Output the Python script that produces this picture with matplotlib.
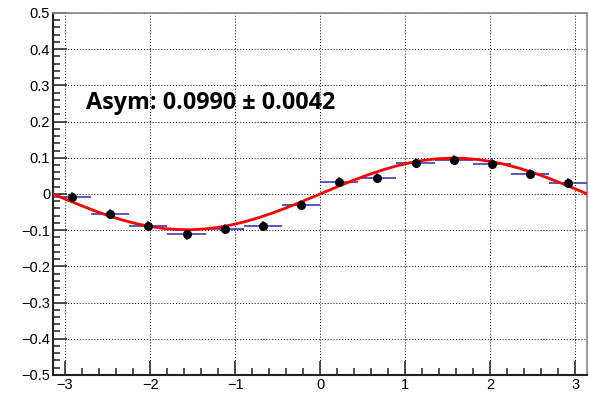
import numpy as np
import matplotlib
matplotlib.use('Agg')
import matplotlib.pyplot as plt
from matplotlib.ticker import MultipleLocator, FixedLocator

# binned asymmetry vs phi (14 bins over -pi..pi)
n_bins = 14
bin_edges = np.linspace(-np.pi, np.pi, n_bins + 1)
asym_vals = [-0.009, -0.055, -0.088, -0.112, -0.096, -0.089, -0.030,
             0.033, 0.043, 0.086, 0.094, 0.084, 0.054, 0.030]
asym_errs = [0.014] * n_bins

fit_amp = 0.0990
fit_err = 0.0042

x_ticks = [-3, -2, -1, 0, 1, 2, 3]
y_ticks = [-0.5, -0.4, -0.3, -0.2, -0.1, 0, 0.1, 0.2, 0.3, 0.4, 0.5]
y_ticklabels = ['\u22120.5', '\u22120.4', '\u22120.3', '\u22120.2', '\u22120.1', '0',
                '0.1', '0.2', '0.3', '0.4', '0.5']
x_ticklabels = ['\u22123', '\u22122', '\u22121', '0', '1', '2', '3']

plt.rcParams['font.family'] = ['Liberation Sans', 'DejaVu Sans']

fig = plt.figure(figsize=(5.89, 3.93), dpi=100)
ax = fig.add_axes([0.090, 0.046, 0.907, 0.921])

centers = 0.5 * (bin_edges[:-1] + bin_edges[1:])
half_w = 0.5 * np.diff(bin_edges)

ax.errorbar(centers, asym_vals, xerr=half_w, yerr=asym_errs, fmt='none',
            ecolor='#2a2ab0', elinewidth=1.1, capsize=0, zorder=3)

# fit curve, drawn coarse like a TF1 polyline
phi = np.linspace(-np.pi, np.pi, 40)
ax.plot(phi, fit_amp * np.sin(phi), color='#ff0000', lw=2, zorder=4)

ax.plot(centers, asym_vals, 'o', color='black', ms=5.5, zorder=5)

ax.text(-2.75, 0.252, 'Asym: %.4f \u00b1 %.4f' % (fit_amp, fit_err),
        fontsize=16.8, fontweight='bold', family=['Open Sans', 'DejaVu Sans'],
        va='center', ha='left')

ax.set_xlim(-np.pi, np.pi)
ax.set_ylim(-0.5, 0.5)
ax.xaxis.set_major_locator(FixedLocator(x_ticks))
ax.set_xticklabels(x_ticklabels)
ax.xaxis.set_minor_locator(MultipleLocator(0.2))
ax.yaxis.set_major_locator(FixedLocator(y_ticks))
ax.set_yticklabels(y_ticklabels)
ax.yaxis.set_minor_locator(MultipleLocator(0.02))

ax.tick_params(which='both', direction='in', top=False, right=False,
               labelsize=10.5, color='#333333', width=1.2)
ax.tick_params(which='major', length=10, pad=2)
ax.tick_params(which='minor', length=5)

ax.grid(True, which='major', color='black', linestyle=(0, (1, 2)), lw=0.7)

for side in ['top', 'right']:
    ax.spines[side].set_color('#888888')
    ax.spines[side].set_linewidth(1.2)
for side in ['left', 'bottom']:
    ax.spines[side].set_color('#222222')
    ax.spines[side].set_linewidth(1.5)

fig.savefig('out.png', dpi=100)
